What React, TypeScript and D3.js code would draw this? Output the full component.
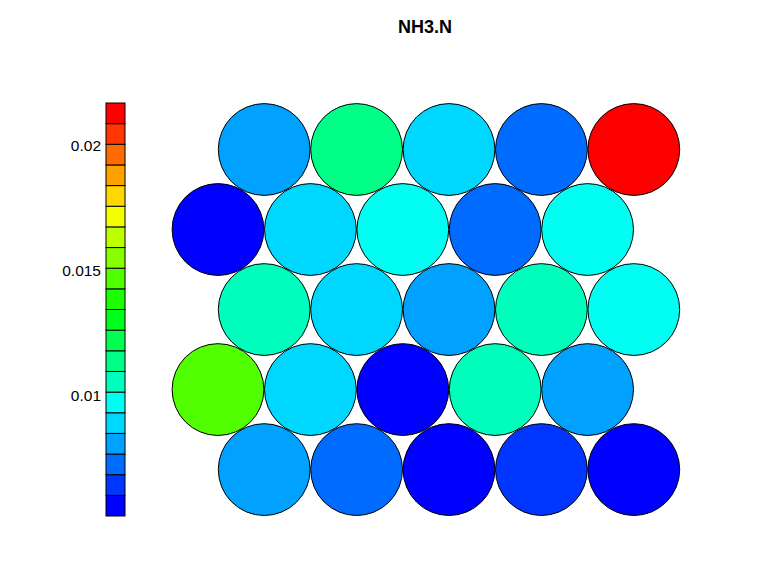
import React, { useEffect, useRef } from "react";
import * as d3 from "d3";

// SOM codebook values for NH3.N, rows listed top to bottom
const title = "NH3.N";
const row1 = [0.0081, 0.0113, 0.0089, 0.0073, 0.02168];
const row2 = [0.00516, 0.0088, 0.0097, 0.0072, 0.0098];
const row3 = [0.0105, 0.009, 0.008, 0.0106, 0.0096];
const row4 = [0.0146, 0.0088, 0.0055, 0.0104, 0.008];
const row5 = [0.0079, 0.0072, 0.0054, 0.0064, 0.0057];
const rows = [row1, row2, row3, row4, row5];
// rows shifted half a cell to the right
const shifted = [true, false, true, false, true];
const tickValues = [0.01, 0.015, 0.02];
const paletteAnchors = ["#0000ff", "#00ffff", "#00ff00", "#ffff00", "#ff0000"];
const nColors = 20;

function App() {
  const svgRef = useRef<SVGSVGElement>(null);
  const width = 776;
  const height = 581;

  useEffect(() => {
    const svg = d3.select(svgRef.current);
    svg.selectAll("*").remove();

    const all = rows.flat();
    const [lo, hi] = d3.extent(all) as [number, number];

    // 20-colour ramp blue -> cyan -> green -> yellow -> red
    const ramp = d3
      .scaleLinear<string>()
      .domain(paletteAnchors.map((_, i) => i / (paletteAnchors.length - 1)))
      .range(paletteAnchors)
      .interpolate(d3.interpolateRgb);
    const colors = d3.range(nColors).map((i) => ramp(i / (nColors - 1)));

    const binOf = (v: number) =>
      Math.min(nColors - 1, Math.floor(((v - lo) / (hi - lo)) * nColors));

    // title
    svg
      .append("text")
      .attr("x", 425)
      .attr("y", 33)
      .attr("text-anchor", "middle")
      .style("font-family", "Liberation Sans, Arial, sans-serif")
      .style("font-size", "18px")
      .style("font-weight", "bold")
      .text(title);

    // hex grid of circles
    const step = 92.4;
    const x = d3.scaleLinear().domain([0, 4]).range([218, 218 + 4 * step]);
    const y = d3
      .scaleLinear()
      .domain([0, 4])
      .range([149.5, 149.5 + 4 * step * Math.sqrt(3) / 2]);
    const r = step / 2 - 0.3;

    const cells = rows.flatMap((row, ri) =>
      row.map((v, ci) => ({ v, cx: x(ci + (shifted[ri] ? 0.5 : 0)), cy: y(ri) }))
    );

    svg
      .append("g")
      .selectAll("circle")
      .data(cells)
      .join("circle")
      .attr("cx", (d) => d.cx)
      .attr("cy", (d) => d.cy)
      .attr("r", r)
      .attr("fill", (d) => colors[binOf(d.v)])
      .attr("stroke", "black")
      .attr("stroke-width", 1);

    // colour key
    const keyX = 106;
    const keyW = 19;
    const keyScale = d3.scaleLinear().domain([lo, hi]).range([516, 103]);
    const binW = (hi - lo) / nColors;

    const key = svg.append("g");
    key
      .selectAll("rect")
      .data(colors)
      .join("rect")
      .attr("x", keyX)
      .attr("y", (_, i) => keyScale(lo + (i + 1) * binW))
      .attr("width", keyW)
      .attr("height", (_, i) => keyScale(lo + i * binW) - keyScale(lo + (i + 1) * binW))
      .attr("fill", (d) => d)
      .attr("stroke", "black")
      .attr("stroke-width", 1);

    key
      .selectAll("text")
      .data(tickValues)
      .join("text")
      .attr("x", 101)
      .attr("y", (d) => keyScale(d))
      .attr("text-anchor", "end")
      .attr("dominant-baseline", "central")
      .style("font-family", "Liberation Sans, Arial, sans-serif")
      .style("font-size", "15.5px")
      .text((d) => String(d));
  }, []);

  return (
    <svg
      ref={svgRef}
      width={width}
      height={height}
      style={{ position: "absolute", left: 0, top: 0, background: "white" }}
    ></svg>
  );
}

export default App;
